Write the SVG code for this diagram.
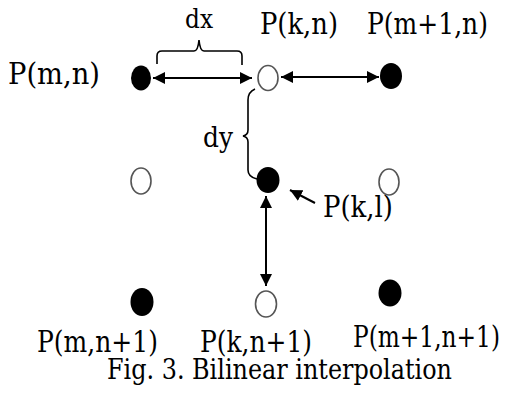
<svg xmlns="http://www.w3.org/2000/svg" width="509" height="396" viewBox="0 0 509 396">
<style>
text{font-family:"DejaVu Serif","Liberation Serif",serif;fill:#000;}
.lbl{font-size:29px;}
.fill{fill:#000;}
.open{fill:#fff;stroke:#555;stroke-width:1.6;}
.conn{stroke:#000;stroke-width:2;fill:none;}
.brace{stroke:#000;stroke-width:1.6;fill:none;}
</style>
<defs>
<marker id="ah" viewBox="0 0 12 12" refX="12" refY="6" markerWidth="12" markerHeight="12" markerUnits="userSpaceOnUse" orient="auto-start-reverse">
<path d="M0,0 L12,6 L0,12 Z" fill="#000"/>
</marker>
</defs>
<rect width="509" height="396" fill="#fff"/>
<g id="connectors">
<line class="conn" x1="153" y1="78" x2="252" y2="78" marker-start="url(#ah)" marker-end="url(#ah)"/>
<line class="conn" x1="281" y1="77" x2="379" y2="77" marker-start="url(#ah)" marker-end="url(#ah)"/>
<line class="conn" x1="266" y1="196" x2="266" y2="286" marker-start="url(#ah)" marker-end="url(#ah)"/>
<line class="conn" x1="315" y1="203" x2="290" y2="190" marker-end="url(#ah)"/>
<path class="brace" d="M157,64 L157,56 Q157,51 162,51 L194,51 Q198,51 199,40 Q200,51 204,51 L237,51 Q242,51 242,56 L242,65"/>
<path class="brace" d="M255,89 Q248,92 248,100 L248,130 Q248,135 243,136 Q248,137 248,142 L248,170 Q248,177 257,179"/>
<text x="185" y="28" font-size="26" textLength="28" lengthAdjust="spacingAndGlyphs">dx</text>
<text x="203" y="147" font-size="27" textLength="30" lengthAdjust="spacingAndGlyphs">dy</text>
</g>
<g id="P_m_n"><ellipse class="fill" cx="141" cy="78" rx="10" ry="12.5"/><text class="lbl" x="8" y="84" textLength="92" lengthAdjust="spacingAndGlyphs">P(m,n)</text></g>
<g id="P_k_n"><ellipse class="open" cx="268" cy="78" rx="10" ry="12.5"/><text class="lbl" x="260" y="34" textLength="78" lengthAdjust="spacingAndGlyphs">P(k,n)</text></g>
<g id="P_m1_n"><ellipse class="fill" cx="391" cy="76" rx="11" ry="13"/><text class="lbl" x="367" y="34" textLength="121" lengthAdjust="spacingAndGlyphs">P(m+1,n)</text></g>
<g id="open_left_mid"><ellipse class="open" cx="141" cy="181" rx="10" ry="13"/></g>
<g id="P_k_l"><ellipse class="fill" cx="268" cy="180" rx="11.5" ry="13"/><text class="lbl" x="323" y="217" textLength="70" lengthAdjust="spacingAndGlyphs">P(k,l)</text></g>
<g id="open_right_mid"><ellipse class="open" cx="389" cy="182" rx="10" ry="13"/></g>
<g id="P_m_n1"><ellipse class="fill" cx="142" cy="302" rx="11.5" ry="14"/><text class="lbl" x="37" y="352" textLength="121" lengthAdjust="spacingAndGlyphs">P(m,n+1)</text></g>
<g id="P_k_n1"><ellipse class="open" cx="266" cy="304" rx="10.5" ry="13"/><text class="lbl" x="200" y="352" textLength="112" lengthAdjust="spacingAndGlyphs">P(k,n+1)</text></g>
<g id="P_m1_n1"><ellipse class="fill" cx="390" cy="293" rx="11.5" ry="13.5"/><text class="lbl" x="353" y="347" textLength="147" lengthAdjust="spacingAndGlyphs">P(m+1,n+1)</text></g>
<g id="caption"><text x="107" y="379" font-size="27" textLength="345" lengthAdjust="spacingAndGlyphs">Fig. 3. Bilinear interpolation</text></g>
</svg>
